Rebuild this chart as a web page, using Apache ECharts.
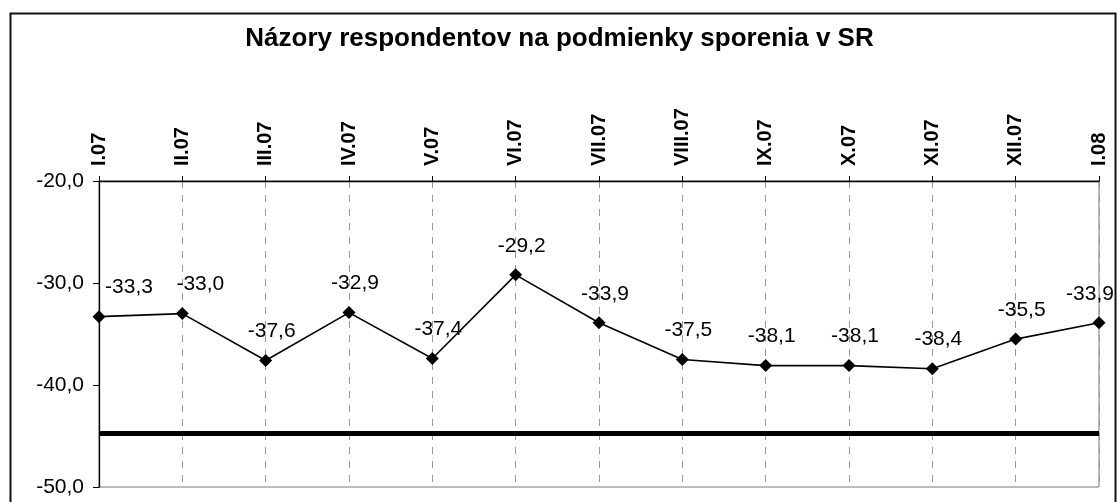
<!DOCTYPE html>
<html>
<head>
<meta charset="utf-8">
<script src="https://cdn.jsdelivr.net/npm/echarts@6/dist/echarts.min.js"></script>
<style>
  html, body { margin: 0; padding: 0; background: #fff; }
  #chart { width: 1119px; height: 502px; }
</style>
</head>
<body>
<div id="chart"></div>
<script>
// mesiace
const months = ['I.07', 'II.07', 'III.07', 'IV.07', 'V.07', 'VI.07', 'VII.07',
  'VIII.07', 'IX.07', 'X.07', 'XI.07', 'XII.07', 'I.08'];
// saldo názorov
const values = [-33.3, -33.0, -37.6, -32.9, -37.4, -29.2, -33.9, -37.5, -38.1, -38.1, -38.4, -35.5, -33.9];
// dlhodobý priemer (hrubá čiara)
const average = -44.7;
const yTicks = [-50, -40, -30, -20];

const fmt = v => v.toFixed(1).replace('.', ',');

const chart = echarts.init(document.getElementById('chart'));

const seriesData = values.map((v, i) => {
  let offset = [6, 0];
  if (i === 0) offset = [30, 0];
  if (i === 1) offset = [18, 0];
  if (i === values.length - 1) offset = [-9, 0];
  return { value: v, label: { offset: offset } };
});

chart.setOption({
  animation: false,
  backgroundColor: '#fff',
  title: {
    text: 'Názory respondentov na podmienky sporenia v SR',
    left: 'center',
    top: 21,
    textStyle: {
      fontFamily: 'Liberation Sans, Arial, sans-serif',
      fontSize: 26,
      fontWeight: 'bold',
      color: '#000'
    }
  },
  graphic: [{
    type: 'rect',
    left: 8,
    top: 11,
    shape: { width: 1105, height: 520 },
    style: { fill: 'none', stroke: '#111', lineWidth: 2 },
    silent: true,
    z: 0
  }],
  grid: {
    left: 99,
    right: 20,
    top: 181,
    bottom: 15,
    show: true,
    borderColor: '#777',
    borderWidth: 1,
    backgroundColor: 'transparent'
  },
  xAxis: {
    type: 'category',
    position: 'top',
    data: months,
    boundaryGap: false,
    axisLine: { lineStyle: { color: '#000', width: 1.3 } },
    axisTick: { show: true, length: 5, lineStyle: { color: '#000' } },
    axisLabel: {
      rotate: -90,
      margin: 15,
      fontFamily: 'Liberation Sans, Arial, sans-serif',
      fontSize: 20,
      fontWeight: 'bold',
      color: '#000'
    },
    splitLine: {
      show: true,
      lineStyle: { color: '#999', type: [7, 7], width: 1 }
    }
  },
  yAxis: {
    type: 'value',
    min: yTicks[0],
    max: yTicks[yTicks.length - 1],
    interval: 10,
    axisLine: { show: true, lineStyle: { color: '#000', width: 1.3 } },
    axisTick: { show: true, length: 6, lineStyle: { color: '#000' } },
    splitLine: { show: false },
    axisLabel: {
      margin: 15,
      fontFamily: 'Liberation Sans, Arial, sans-serif',
      fontSize: 21,
      color: '#000',
      formatter: v => fmt(v)
    }
  },
  series: [{
    type: 'line',
    data: seriesData,
    symbol: 'diamond',
    symbolSize: 13,
    itemStyle: { color: '#000' },
    lineStyle: { color: '#000', width: 1.6 },
    label: {
      show: true,
      position: 'top',
      distance: 12,
      fontFamily: 'Liberation Sans, Arial, sans-serif',
      fontSize: 21,
      color: '#000',
      formatter: p => fmt(p.value)
    },
    markLine: {
      silent: true,
      symbol: 'none',
      label: { show: false },
      lineStyle: { color: '#000', width: 5, type: 'solid' },
      data: [{ yAxis: average }]
    },
    z: 5
  }]
});
</script>
</body>
</html>
